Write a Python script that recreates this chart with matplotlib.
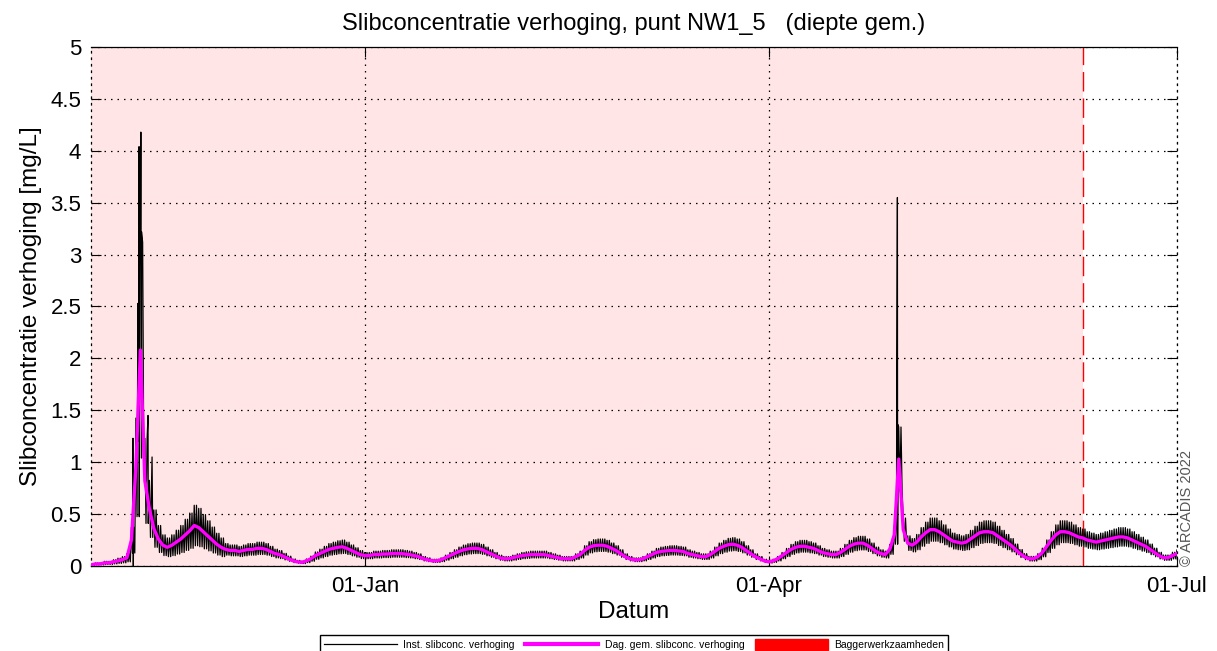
from datetime import datetime, timedelta

import numpy as np
import matplotlib
matplotlib.use('Agg')
import matplotlib.pyplot as plt
import matplotlib.dates as mdates
from matplotlib.lines import Line2D
from matplotlib.patches import Patch

plt.rcParams['font.family'] = ['Liberation Sans', 'DejaVu Sans']

START = datetime(2022, 11, 1)
END = datetime(2023, 7, 1)
DREDGE_END = datetime(2023, 6, 10)

# daily mean concentration increase [mg/L], one value per day from 01-Nov
daily_mean = [
    0.01, 0.02, 0.02, 0.03, 0.03, 0.04, 0.05, 0.06, 0.08, 0.25,
    0.95, 2.08, 0.82, 0.55, 0.36, 0.26, 0.20, 0.18, 0.20, 0.23,
    0.26, 0.30, 0.34, 0.39, 0.37, 0.33, 0.29, 0.25, 0.21, 0.18,
    0.16, 0.15, 0.15, 0.14, 0.15, 0.16, 0.16, 0.17, 0.17, 0.16,
    0.14, 0.12, 0.11, 0.09, 0.07, 0.05, 0.04, 0.035, 0.05, 0.07,
    0.10, 0.12, 0.14, 0.16, 0.17, 0.18, 0.185, 0.17, 0.15, 0.13,
    0.11, 0.10, 0.10, 0.11, 0.11, 0.115, 0.115, 0.12, 0.12, 0.12,
    0.115, 0.11, 0.10, 0.09, 0.07, 0.06, 0.05, 0.05, 0.06, 0.08,
    0.10, 0.12, 0.14, 0.155, 0.165, 0.17, 0.17, 0.16, 0.14, 0.12,
    0.10, 0.08, 0.07, 0.07, 0.08, 0.09, 0.10, 0.105, 0.11, 0.11,
    0.11, 0.11, 0.10, 0.09, 0.08, 0.07, 0.07, 0.07, 0.09, 0.11,
    0.15, 0.18, 0.195, 0.20, 0.20, 0.19, 0.17, 0.15, 0.12, 0.09,
    0.07, 0.06, 0.06, 0.07, 0.09, 0.11, 0.13, 0.14, 0.145, 0.15,
    0.15, 0.145, 0.14, 0.12, 0.11, 0.10, 0.09, 0.09, 0.11, 0.14,
    0.17, 0.19, 0.205, 0.21, 0.20, 0.18, 0.15, 0.12, 0.09, 0.07,
    0.05, 0.04, 0.05, 0.07, 0.10, 0.13, 0.16, 0.18, 0.19, 0.19,
    0.18, 0.17, 0.15, 0.13, 0.12, 0.11, 0.11, 0.13, 0.16, 0.19,
    0.21, 0.22, 0.22, 0.20, 0.17, 0.14, 0.12, 0.11, 0.16, 0.30,
    1.03, 0.35, 0.22, 0.20, 0.23, 0.28, 0.32, 0.35, 0.35, 0.33,
    0.30, 0.27, 0.24, 0.23, 0.22, 0.23, 0.26, 0.29, 0.32, 0.33,
    0.33, 0.32, 0.29, 0.26, 0.23, 0.20, 0.16, 0.12, 0.09, 0.07,
    0.07, 0.09, 0.13, 0.19, 0.25, 0.30, 0.33, 0.33, 0.32, 0.30,
    0.28, 0.27, 0.25, 0.24, 0.23, 0.24, 0.25, 0.26, 0.27, 0.28,
    0.28, 0.27, 0.25, 0.23, 0.21, 0.19, 0.16, 0.13, 0.10, 0.08,
    0.08, 0.10, 0.12,
]

# relative tidal half range of the instantaneous signal, per month
tide_months = [11, 12, 1, 2, 3, 4, 5, 6, 7]
tide_fraction = [0.5, 0.35, 0.3, 0.3, 0.3, 0.3, 0.32, 0.32, 0.3]

# short peaks in the instantaneous signal (day offset from 01-Nov, mg/L)
spike_day = [9.35, 9.42, 10.45, 10.6, 10.7, 10.85, 11.1, 11.25, 12.7, 13.6,
             179.55, 179.7, 179.85]
spike_value = [1.23, 0.0, 2.53, 1.2, 4.04, 2.9, 4.18, 3.22, 1.45, 1.05,
               1.87, 3.55, 1.36]

y_ticks = [0, 0.5, 1, 1.5, 2, 2.5, 3, 3.5, 4, 4.5, 5]
y_tick_labels = ['0', '0.5', '1', '1.5', '2', '2.5', '3', '3.5', '4', '4.5', '5']

base = mdates.date2num(START)
n_days = len(daily_mean)
day_idx = np.arange(n_days)
mean = np.array(daily_mean)

month_of_day = [(START + timedelta(days=int(d))).month for d in day_idx]
frac_lookup = dict(zip(tide_months, tide_fraction))
frac = np.array([frac_lookup[m] for m in month_of_day])

# instantaneous signal: two tidal highs and lows around each daily mean
phase = np.array([0.0, 0.25, 0.5, 0.75])
sign = np.array([1, -1, 1, -1])
inst_day = (day_idx[:, None] + phase[None, :]).ravel()
inst_val = (mean[:, None] * (1 + sign[None, :] * frac[:, None])).ravel()
inst_day = np.concatenate([inst_day, spike_day])
inst_val = np.concatenate([inst_val, spike_value])
order = np.argsort(inst_day, kind='stable')
inst_day = inst_day[order]
inst_val = inst_val[order]

fig = plt.figure(figsize=(12.17, 6.51), dpi=100)
ax = fig.add_axes([0.0748, 0.1306, 0.8923, 0.7972])

ax.axvspan(mdates.date2num(START) - 30, mdates.date2num(DREDGE_END),
           color='red', alpha=0.1, lw=0, zorder=0)
ax.axvline(mdates.date2num(DREDGE_END), color='red', lw=1.0,
           linestyle=(0, (14, 5)), zorder=1)

ax.plot(base + inst_day, inst_val, color='black', lw=0.9, zorder=3)
ax.plot(base + day_idx, mean, color='#ff00ff', lw=2.4, zorder=4)

ax.set_xlim(mdates.date2num(START), mdates.date2num(END))
ax.set_ylim(0, 5)
ax.set_yticks(y_ticks)
ax.set_yticklabels(y_tick_labels)
ax.xaxis.set_major_locator(mdates.MonthLocator(bymonth=[1, 4, 7]))
ax.xaxis.set_major_formatter(mdates.DateFormatter('%d-%b'))

ax.grid(True, color='black', linestyle=(0, (1.2, 4)), linewidth=0.9)
ax.tick_params(direction='in', length=7, width=0.8, labelsize=16,
               top=True, right=True, pad=7)
for side in ('left', 'right'):
    ax.spines[side].set_linestyle((0, (1.2, 4)))
for spine in ax.spines.values():
    spine.set_linewidth(0.9)

ax.set_title('Slibconcentratie verhoging, punt NW1_5   (diepte gem.)',
             fontsize=17, pad=12)
ax.set_xlabel('Datum', fontsize=17.5, labelpad=3)
ax.set_ylabel('Slibconcentratie verhoging [mg/L]', fontsize=17.5, labelpad=6)

fig.text(0.9755, 0.1306, '\u00a9 ARCADIS 2022', rotation=90, fontsize=10.5,
         color='#555555', ha='center', va='bottom')

handles = [
    Line2D([], [], color='black', lw=0.9),
    Line2D([], [], color='#ff00ff', lw=3),
    Patch(facecolor='red', edgecolor='red'),
]
labels = ['Inst. slibconc. verhoging', 'Dag. gem. slibconc. verhoging',
          'Baggerwerkzaamheden']
fig.legend(handles, labels, loc='upper center', bbox_to_anchor=(0.521, 0.0325),
           ncol=3, fontsize=7.5, frameon=True, fancybox=False,
           edgecolor='black', framealpha=1, handlelength=7, handleheight=1.2,
           handletextpad=0.6, columnspacing=1.0, borderpad=0.4)

fig.savefig('out.png', dpi=100)
